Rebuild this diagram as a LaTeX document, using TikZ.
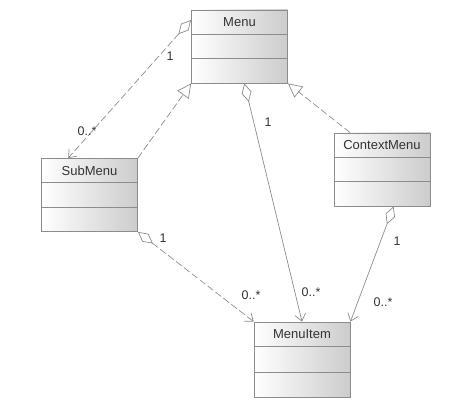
\documentclass[tikz,border=0pt]{standalone}
\usepackage{fontspec}
\setmainfont{Liberation Sans}
\usetikzlibrary{calc,arrows.meta}
\definecolor{ink}{HTML}{333333}
\definecolor{faintline}{HTML}{8C8C8C}
\tikzset{
  classbox/.style={draw=faintline, line width=0.8pt, minimum width=96pt, minimum height=73pt, inner sep=0pt, left color=white, right color=black!20},
  divider/.style={draw=faintline, line width=0.8pt},
  title/.style={text=ink, font=\fontsize{13}{15}\selectfont},
  mult/.style={text=ink, font=\fontsize{12.5}{14}\selectfont},
  assoc/.style={draw=faintline, line width=0.7pt},
  dashedassoc/.style={assoc, dash pattern=on 7pt off 3pt},
  aggr/.style={{Diamond[open,length=19pt,width=10pt]}-{Straight Barb[length=7pt,width=11pt]}},
  inherit/.style={-{Triangle[open,length=14pt,width=14pt]}},
}

\begin{document}
\begin{tikzpicture}[x=1pt,y=-1pt]
  \useasboundingbox (0,0) rectangle (470,406);

  \node[classbox] (menu) at (239.5,46.5) {};
  \node[classbox] (submenu) at (89.5,195) {};
  \node[classbox] (ctxmenu) at (382,169.5) {};
  \node[classbox, minimum height=75pt] (menuitem) at (302,359.5) {};
  \foreach \n/\t in {menu/Menu, submenu/SubMenu, ctxmenu/ContextMenu, menuitem/MenuItem}{
    \draw[divider] ($(\n.north west)!1/3!(\n.south west)$) -- ($(\n.north east)!1/3!(\n.south east)$);
    \draw[divider] ($(\n.north west)!2/3!(\n.south west)$) -- ($(\n.north east)!2/3!(\n.south east)$);
    \node[title] (\n-name) at ($(\n.north)!1/6!(\n.south)$) {\t};
  }

  \coordinate (menuL) at ($(menu.north west)!0.14!(menu.south west)$);
  \coordinate (menuB) at ($(menu.south west)!0.55!(menu.south east)$);
  \coordinate (subT) at ($(submenu.north west)!0.28!(submenu.north east)$);
  \coordinate (ctxT) at ($(ctxmenu.north west)!0.17!(ctxmenu.north east)$);
  \coordinate (ctxB) at ($(ctxmenu.south west)!0.62!(ctxmenu.south east)$);

  \draw[dashedassoc, aggr] (menuL) -- (subT);
  \draw[dashedassoc, inherit] (submenu.north east) -- (menu.south west);
  \draw[assoc, aggr] (menuB) -- (menuitem.north);
  \draw[dashedassoc, inherit] (ctxT) -- (menu.south east);
  \draw[assoc, aggr] (ctxB) -- (menuitem.north east);
  \draw[dashedassoc, aggr] (submenu.south east) -- (menuitem.north west);

  \node[mult] (m-menu-sub) at (170,56) {1};
  \node[mult] (m-sub-menu) at (87,131) {0..*};
  \node[mult] (m-menu-item) at (268,122) {1};
  \node[mult] (m-item-menu) at (311,292) {0..*};
  \node[mult] (m-ctx-item) at (397,241) {1};
  \node[mult] (m-item-ctx) at (383,302) {0..*};
  \node[mult] (m-sub-item) at (163,238) {1};
  \node[mult] (m-item-sub) at (251,295) {0..*};
\end{tikzpicture}
\end{document}
